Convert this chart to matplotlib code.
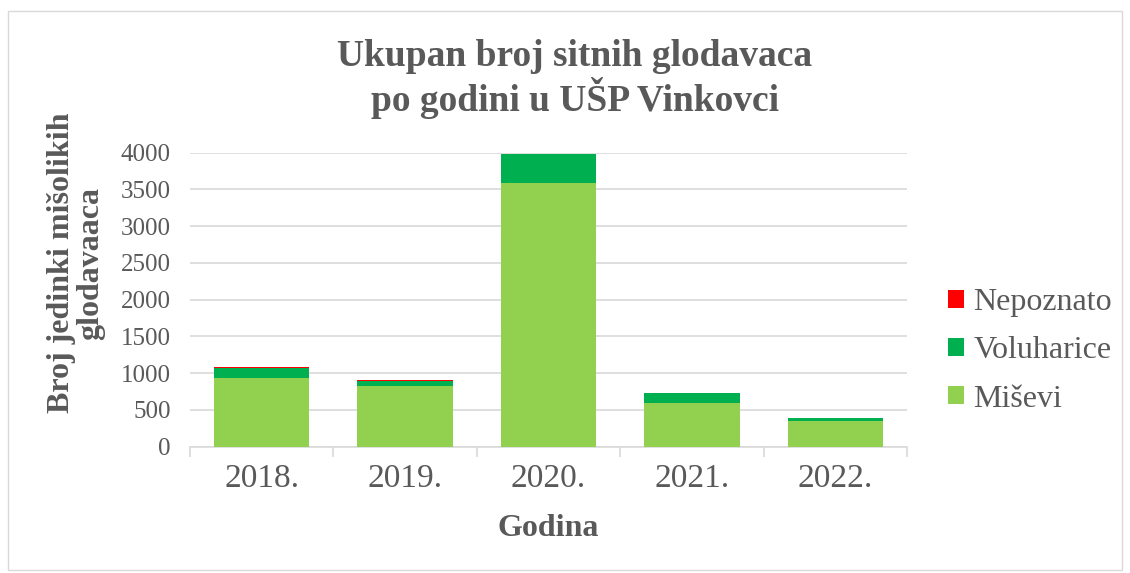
import matplotlib.pyplot as plt
from matplotlib.patches import Rectangle

# data
years = ['2018.', '2019.', '2020.', '2021.', '2022.']
misevi = [930, 821, 3592, 594, 354]
voluharice = [145, 77, 385, 132, 31]
nepoznato = [4, 4, 1, 1, 1]

plt.rcParams['font.family'] = ['Liberation Serif', 'DejaVu Serif']
txt = '#595959'

fig = plt.figure(figsize=(11.3, 5.73), dpi=100)
ax = fig.add_axes([0.1681, 0.2204, 0.6346, 0.5131])

x = range(len(years))
w = 0.667
bottom2 = [a + b for a, b in zip(misevi, voluharice)]
ax.bar(x, misevi, w, color='#92d050', label='Miševi', zorder=3)
ax.bar(x, voluharice, w, bottom=misevi, color='#00b050', label='Voluharice', zorder=3)
ax.bar(x, nepoznato, w, bottom=bottom2, color='#ff0000', label='Nepoznato', zorder=3)

ax.set_xlim(-0.5, len(years) - 0.5)
ax.set_ylim(0, 4000)
ax.set_yticks(range(0, 4001, 500))
ax.yaxis.grid(True, color='#d9d9d9', linewidth=1.2, zorder=0)
ax.set_axisbelow(True)
ax.tick_params(axis='y', length=0, labelsize=18, labelcolor=txt, pad=14)
ax.set_xticks(list(x))
ax.set_xticklabels(years)
ax.tick_params(axis='x', which='major', length=0, labelsize=24, labelcolor=txt, pad=12)
ax.set_xticks([i - 0.5 for i in range(len(years) + 1)], minor=True)
ax.tick_params(axis='x', which='minor', length=7, color='#d9d9d9', width=1.2)
for s in ['top', 'right', 'left']:
    ax.spines[s].set_visible(False)
ax.spines['bottom'].set_color('#d9d9d9')
ax.spines['bottom'].set_linewidth(1.2)

fig.text(548 / 1130, 1 - 528 / 573, 'Godina', ha='center', va='center',
         fontsize=23, fontweight='bold', color=txt)
fig.text(76 / 1130, 1 - 263 / 573, 'Broj jedinki mišolikih\nglodavaaca', rotation=90,
         ha='center', va='center', fontsize=23, fontweight='bold', color=txt,
         linespacing=1.0)
fig.text(575 / 1130, 1 - 79 / 573, 'Ukupan broj sitnih glodavaca\npo godini u UŠP Vinkovci',
         ha='center', va='center', fontsize=27, fontweight='bold', color=txt,
         linespacing=1.1)

h, l = ax.get_legend_handles_labels()
fig.legend(h[::-1], l[::-1], loc='center left', bbox_to_anchor=(948 / 1130, 1 - 351 / 573),
           frameon=False, fontsize=23, labelcolor=txt, handlelength=0.5,
           handleheight=0.5, handletextpad=0.3, labelspacing=0.6, borderpad=0,
           borderaxespad=0)

fig.add_artist(Rectangle((0.007, 0.005), 0.986, 0.975, transform=fig.transFigure,
                         fill=False, edgecolor='#d9d9d9', linewidth=1))

fig.savefig('out.png', dpi=100)
